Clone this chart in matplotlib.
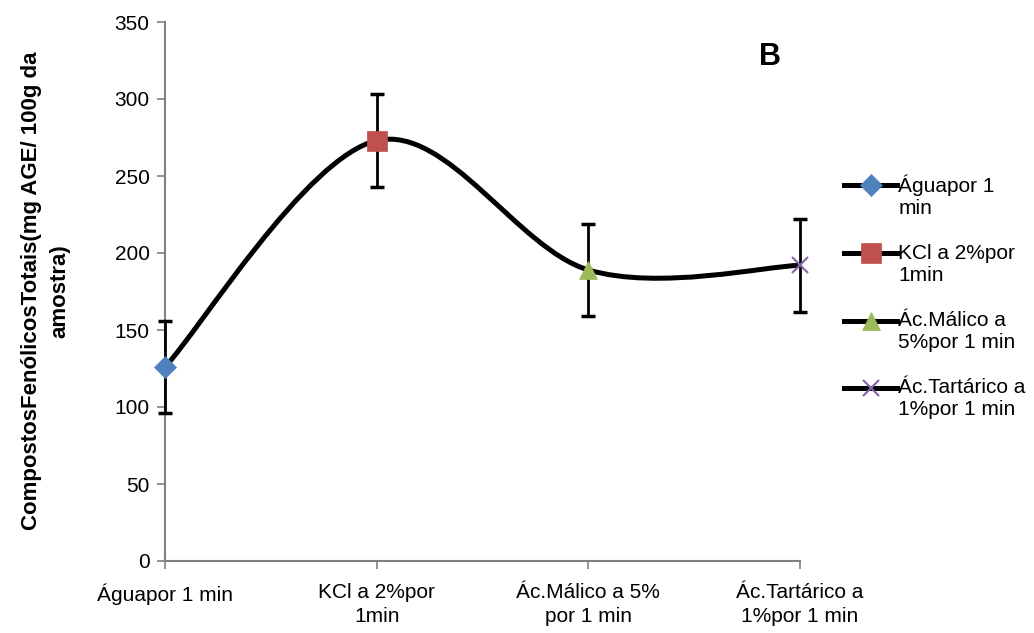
import numpy as np
import matplotlib
matplotlib.use('Agg')
import matplotlib.pyplot as plt
from matplotlib.path import Path
from matplotlib.patches import PathPatch
from matplotlib.lines import Line2D
from matplotlib.legend_handler import HandlerLine2D

plt.rcParams['font.family'] = ['Liberation Sans', 'DejaVu Sans']

# dados
tratamentos = ['Águapor 1 min', 'KCl a 2%por\n1min', 'Ác.Málico a 5%\npor 1 min', 'Ác.Tartárico a\n1%por 1 min']
legenda = ['Águapor 1\nmin', 'KCl a 2%por\n1min', 'Ác.Málico a\n5%por 1 min', 'Ác.Tartárico a\n1%por 1 min']
valores = [126, 273, 189, 192]
erros = [30, 30, 30, 30]
marcadores = ['D', 's', '^', 'x']
cores = ['#4F81BD', '#C0504D', '#9BBB59', '#8064A2']
tamanhos = [11, 14, 13, 11]


class HandlerPrimeiraLinha(HandlerLine2D):
    # alinha o simbolo da legenda com a primeira linha do texto
    def create_artists(self, legend, orig_handle, xdescent, ydescent, width, height, fontsize, trans):
        artistas = super().create_artists(legend, orig_handle, xdescent, ydescent,
                                          width, height, fontsize, trans)
        for a in artistas:
            a.set_ydata(np.asarray(a.get_ydata(), dtype=float) + 8)
        return artistas


fig = plt.figure(figsize=(10.34, 6.33), dpi=100)
ax = fig.add_axes([165 / 1034, 72 / 633, 635 / 1034, 539 / 633])

x = np.arange(len(valores))
y = np.array(valores, dtype=float)

# linha suavizada estilo Excel (Bezier)
verts = [(x[0], y[0])]
codes = [Path.MOVETO]
n = len(x)
for i in range(n - 1):
    p0 = np.array([x[max(i - 1, 0)], y[max(i - 1, 0)]])
    p1 = np.array([x[i], y[i]])
    p2 = np.array([x[i + 1], y[i + 1]])
    p3 = np.array([x[min(i + 2, n - 1)], y[min(i + 2, n - 1)]])
    c1 = p1 + (p2 - p0) / 6
    c2 = p2 - (p3 - p1) / 6
    verts += [tuple(c1), tuple(c2), tuple(p2)]
    codes += [Path.CURVE4] * 3
ax.add_patch(PathPatch(Path(verts, codes), facecolor='none', edgecolor='black',
                       lw=3.6, zorder=2, capstyle='round'))

eb = ax.errorbar(x, y, yerr=erros, fmt='none', ecolor='black', elinewidth=2,
                 capsize=5, capthick=2.5, zorder=3)
for artista in eb.lines[1] + eb.lines[2]:
    artista.set_clip_on(False)

handles = []
for xi, yi, m, c, s in zip(x, y, marcadores, cores, tamanhos):
    mew = 1.5 if m == 'x' else 0.5
    ax.plot([xi], [yi], marker=m, color=c, markersize=s, markeredgewidth=mew,
            markeredgecolor=c, linestyle='none', zorder=4, clip_on=False)
    handles.append(Line2D([0], [0], color='black', lw=3.6, marker=m, markerfacecolor=c,
                          markeredgecolor=c, markeredgewidth=mew, markersize=s))

ax.set_xlim(0, 3)
ax.set_ylim(0, 350)
ax.set_yticks(np.arange(0, 351, 50))
ax.set_xticks(x)
ax.set_xticklabels(tratamentos, fontsize=15, linespacing=1.35)
ax.tick_params(axis='y', labelsize=15, length=6, width=1.2, color='#808080', pad=5)
ax.tick_params(axis='x', length=6, width=1.2, color='#808080', pad=10)
for lado in ['top', 'right']:
    ax.spines[lado].set_visible(False)
for lado in ['left', 'bottom']:
    ax.spines[lado].set_color('#808080')
    ax.spines[lado].set_linewidth(1.5)

fig.text(46 / 1034, 1 - 291 / 633, 'CompostosFenólicosTotais(mg AGE/ 100g da\namostra)',
         rotation=90, ha='center', va='center', fontsize=16, fontweight='bold',
         multialignment='center', linespacing=1.45)

fig.text(770 / 1034, 1 - 57 / 633, 'B', ha='center', va='center', fontsize=22, fontweight='bold')

fig.legend(handles, legenda, loc='upper left', bbox_to_anchor=(836 / 1034, 1 - 166 / 633),
           frameon=False, fontsize=15, handlelength=2.55, handletextpad=0.05,
           labelspacing=1.25, borderaxespad=0,
           handler_map={Line2D: HandlerPrimeiraLinha()})

fig.savefig('out.png', dpi=100)
